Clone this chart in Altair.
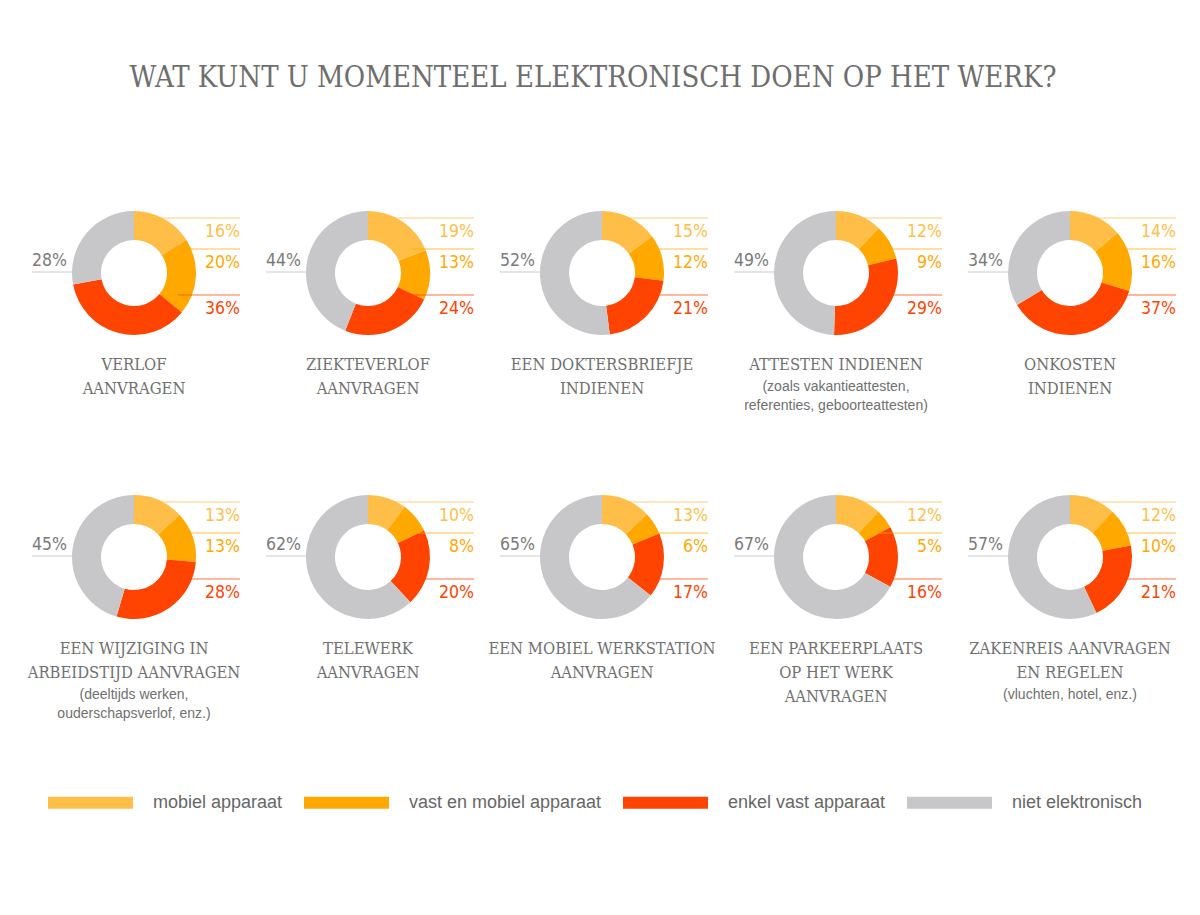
import altair as alt
import pandas as pd

# ---------------- data ----------------
chart_title = "WAT KUNT U MOMENTEEL ELEKTRONISCH DOEN OP HET WERK?"

titles = [
    "VERLOF\nAANVRAGEN",
    "ZIEKTEVERLOF\nAANVRAGEN",
    "EEN DOKTERSBRIEFJE\nINDIENEN",
    "ATTESTEN INDIENEN",
    "ONKOSTEN\nINDIENEN",
    "EEN WIJZIGING IN\nARBEIDSTIJD AANVRAGEN",
    "TELEWERK\nAANVRAGEN",
    "EEN MOBIEL WERKSTATION\nAANVRAGEN",
    "EEN PARKEERPLAATS\nOP HET WERK\nAANVRAGEN",
    "ZAKENREIS AANVRAGEN\nEN REGELEN",
]
notes = [
    "", "", "",
    "(zoals vakantieattesten,\nreferenties, geboorteattesten)",
    "",
    "(deeltijds werken,\nouderschapsverlof, enz.)",
    "", "", "",
    "(vluchten, hotel, enz.)",
]

categories = ["mobiel apparaat", "vast en mobiel apparaat", "enkel vast apparaat", "niet elektronisch"]
colors = ["#FFBE48", "#FFA900", "#FF4300", "#C7C7C9"]

mobiel = [16, 19, 15, 12, 14, 13, 10, 13, 12, 12]
vast_en_mobiel = [20, 13, 12, 9, 16, 13, 8, 6, 5, 10]
enkel_vast = [36, 24, 21, 29, 37, 28, 20, 17, 16, 21]
niet_elektronisch = [28, 44, 52, 49, 34, 45, 62, 65, 67, 57]

series = [mobiel, vast_en_mobiel, enkel_vast, niet_elektronisch]

rows = []
for i in range(len(titles)):
    for k, cat in enumerate(categories):
        v = series[k][i]
        rows.append({
            "i": i, "k": k, "category": cat, "value": v,
            "label": f"{v}%",
            "title": titles[i], "note": notes[i],
            "nlines": len(titles[i].split("\n")),
        })
df = pd.DataFrame(rows)

# ---------------- scales ----------------
W, H = 1184, 899
xs = alt.Scale(domain=[8, 8 + W], nice=False, zero=False)
ys = alt.Scale(domain=[8, 8 + H], nice=False, zero=False, reverse=True)
cs = alt.Scale(domain=categories, range=colors)

PCT_FONT = "DejaVu Sans Condensed, Roboto, sans-serif"
SLAB_FONT = "DejaVu Serif Condensed, DejaVu Serif, serif"
SANS_FONT = "Liberation Sans, Arial, sans-serif"

base = (
    alt.Chart(df)
    .transform_joinaggregate(total="sum(value)", groupby=["i"])
    .transform_window(cum="sum(value)", sort=[alt.SortField("k")], groupby=["i"], frame=[None, 0])
    .transform_calculate(
        t1="2*PI*datum.cum/datum.total",
        t0="2*PI*(datum.cum-datum.value)/datum.total",
        cx="134 + 234*(datum.i % 5)",
        cy="273 + 284*floor(datum.i/5)",
    )
)

X = lambda f: alt.X(f, type="quantitative", scale=xs, axis=None)
Y = lambda f: alt.Y(f, type="quantitative", scale=ys, axis=None)

arcs = base.mark_arc(innerRadius=33, outerRadius=62, strokeWidth=0).encode(
    x=X("cx"),
    y=Y("cy"),
    theta=alt.Theta("t0:Q", scale=None, stack=None),
    theta2="t1:Q",
    color=alt.Color(
        "category:N",
        scale=cs,
        legend=alt.Legend(
            orient="none", legendX=40, legendY=752, direction="horizontal",
            columns=4, title=None,
            symbolType="M-1,-0.14H1V0.14H-1Z", symbolSize=7225,
            symbolStrokeWidth=0, symbolOpacity=1,
            labelFont=SANS_FONT, labelFontSize=18, labelColor="#666666",
            labelOffset=20, columnPadding=21, labelLimit=400,
        ),
    ),
)

right = base.transform_filter("datum.k < 3").transform_calculate(
    dy="datum.k == 0 ? -55 : (datum.k == 1 ? -24 : 22)",
).transform_calculate(
    ly="datum.cy + datum.dy",
    lx1="datum.cx + sqrt(62*62 - datum.dy*datum.dy) - 14",
    lx2="datum.cx + 106",
    ty="datum.cy + datum.dy + 19",
)

right_rules = right.mark_rule(strokeWidth=1.5, opacity=0.5).encode(
    x=X("lx1"), x2="lx2:Q", y=Y("ly"),
    color=alt.Color("category:N", scale=cs, legend=None),
)
right_text = right.mark_text(align="right", baseline="alphabetic", font=PCT_FONT, fontSize=17.5).encode(
    x=X("lx2"), y=Y("ty"), text="label:N",
    color=alt.Color("category:N", scale=cs, legend=None),
)

left = base.transform_filter("datum.k == 3").transform_calculate(
    lx1="datum.cx - 102", lx2="datum.cx - 62", ly="datum.cy - 1", ty="datum.cy - 7",
)
left_rules = left.mark_rule(strokeWidth=1.5, color="#DDDDDD").encode(
    x=X("lx1"), x2="lx2:Q", y=Y("ly"),
)
left_text = left.mark_text(align="left", baseline="alphabetic", font=PCT_FONT, fontSize=17.5, color="#7A7A7A").encode(
    x=X("lx1"), y=Y("ty"), text="label:N",
)

names = base.transform_filter("datum.k == 0").transform_calculate(
    ny="datum.cy + 84",
    my="datum.cy + 91 + (datum.nlines - 1)*24 + 22 - 6.5",
)
name_text = names.mark_text(
    align="center", baseline="top", lineBreak="\n", lineHeight=24,
    font=SLAB_FONT, fontSize=16.5, color="#707070",
).encode(x=X("cx"), y=Y("ny"), text="title:N")
note_text = names.transform_filter("datum.note != ''").mark_text(
    align="center", baseline="top", lineBreak="\n", lineHeight=19,
    font=SANS_FONT, fontSize=14, color="#707070",
).encode(x=X("cx"), y=Y("my"), text="note:N")

title = alt.Chart(pd.DataFrame({"t": [chart_title]})).mark_text(
    align="center", baseline="middle", font=SLAB_FONT, fontSize=29, color="#6E6E6E",
).encode(x=alt.value(585), y=alt.value(70), text="t:N")

chart = alt.layer(
    arcs, right_rules, left_rules, right_text, left_text, name_text, note_text, title
).properties(
    width=W, height=H, padding=0, autosize=alt.AutoSizeParams(type="none"),
    background="white",
).configure_view(stroke=None)

chart.save("out.html", embed_options={"renderer": "svg", "actions": False})
